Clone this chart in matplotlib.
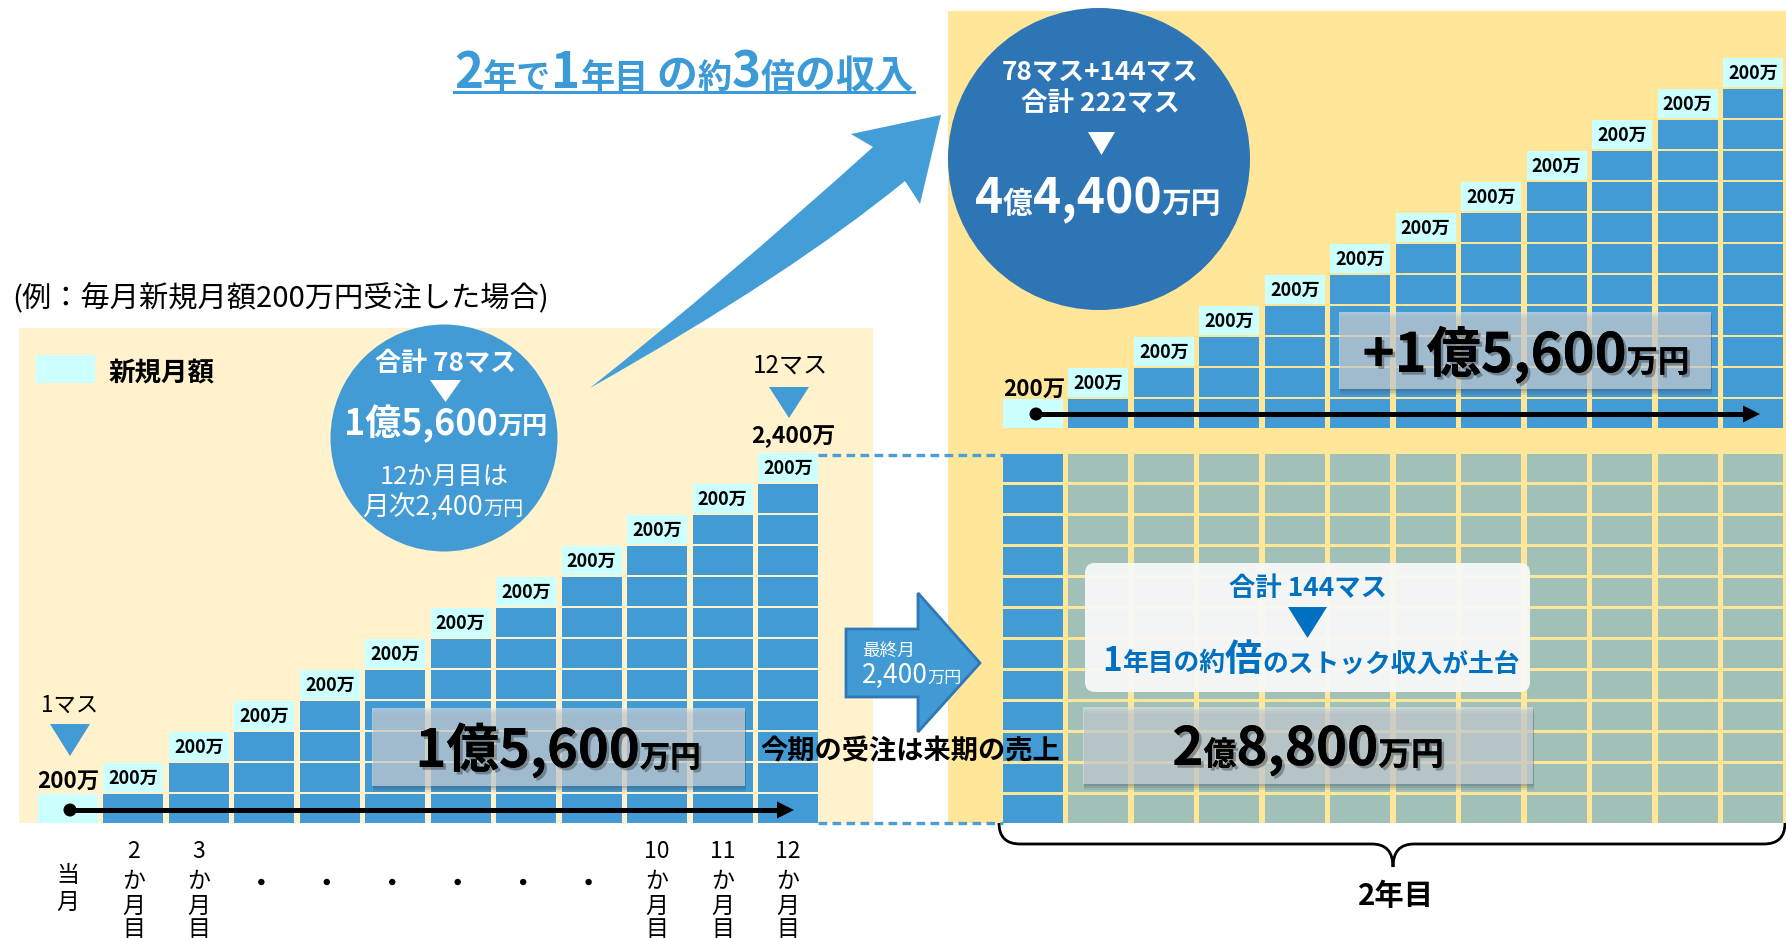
import matplotlib
matplotlib.use('Agg')
import matplotlib.pyplot as plt
from matplotlib.patches import Rectangle, Circle, Polygon, FancyBboxPatch, PathPatch
from matplotlib.path import Path
import matplotlib.patheffects as pe

plt.rcParams['font.family'] = ['Noto Sans CJK JP', 'DejaVu Sans']

# data
month_labels = ['当月', '2か月目', '3か月目', '・', '・', '・', '・', '・', '・',
                '10か月目', '11か月目', '12か月目']
masu_year1 = [1, 2, 3, 4, 5, 6, 7, 8, 9, 10, 11, 12]      # cells per month, year 1
masu_year2 = [1, 2, 3, 4, 5, 6, 7, 8, 9, 10, 11, 12]      # new cells per month, year 2
stock_rows = 12    # last month of year 1 carried over
stock_cols = 12
unit_label = '200万'

# colours
BLUE = '#439bd5'
CYAN = '#ccffff'
CREAM = '#fff2cc'
YELLOW = '#ffe699'
SAGE = '#a1c1b8'
DARK = '#2e75b6'
TBLUE = '#3c9ad6'
BOXBLUE = '#0070c0'

W, H = 1786, 938
fig = plt.figure(figsize=(W / 100, H / 100), dpi=100)
ax = fig.add_axes([0, 0, 1, 1])
ax.set_xlim(0, W)
ax.set_ylim(H, 0)
ax.axis('off')
rend = fig.canvas.get_renderer()

shadow = [pe.withSimplePatchShadow(offset=(2, -2), shadow_rgbFace='k', alpha=0.3), pe.Normal()]


def rich(x, base, parts, width, ha='center', color='black', weight='bold', z=20, effects=None):
    """place runs of text with different sizes on one baseline, fitted to a width"""
    objs = []
    for s, k in parts:
        t = ax.text(0, base, s, fontsize=20 * k, color=color, fontweight=weight,
                    va='baseline', ha='left', zorder=z)
        if effects:
            t.set_path_effects(effects)
        objs.append(t)
    tot = sum(t.get_window_extent(rend).width for t in objs)
    f = width / tot
    for t, (s, k) in zip(objs, parts):
        t.set_fontsize(20 * k * f)
    ws = [t.get_window_extent(rend).width for t in objs]
    x0 = x - sum(ws) / 2 if ha == 'center' else x
    start = x0
    for t, w in zip(objs, ws):
        t.set_x(x0)
        x0 += w
    return start, x0


# backgrounds
ax.add_patch(Rectangle((19, 328), 854, 495, fc=CREAM, ec='none', zorder=0))
ax.add_patch(Rectangle((948, 11), 838, 812, fc=YELLOW, ec='none', zorder=0))

cw, ch = 60, 28.5
px, py = 65.45, 31
lx0, lbot = 38, 823
rx0, rbot = 1003, 428
ltop = 454


def staircase(x0, bottom, counts):
    for i, n in enumerate(counts):
        x = x0 + i * px
        for j in range(n):
            top = bottom - j * py - ch
            last = j == n - 1
            ax.add_patch(Rectangle((x, top), cw, ch, fc=CYAN if last else BLUE, ec='none', zorder=2))
            if last and n > 1:
                ax.text(x + cw / 2, top + ch / 2 + 1, unit_label, fontsize=13, fontweight='bold',
                        ha='center', va='center', zorder=3)


staircase(lx0, lbot, masu_year1)
staircase(rx0, rbot, masu_year2)

# year-2 stock grid
for i in range(stock_cols):
    for j in range(stock_rows):
        ax.add_patch(Rectangle((rx0 + i * px, ltop + j * py), cw, ch,
                               fc=BLUE if i == 0 else SAGE, ec='none', zorder=2))

# dashed connectors
for yy in (455, 823):
    ax.plot([818, 1003], [yy, yy], color='#4a9fd8', lw=2.4, ls=(0, (2.6, 1.6)), zorder=3,
            solid_capstyle='butt', dash_capstyle='butt')


# timeline arrows
def timeline(x0, x1, y):
    ax.plot([x0, x1 - 14], [y, y], color='black', lw=3.6, zorder=5, solid_capstyle='butt')
    ax.add_patch(Circle((x0, y), 6.5, fc='black', zorder=5))
    ax.add_patch(Polygon([(x1 - 17, y - 8.5), (x1, y), (x1 - 17, y + 8.5)], fc='black', zorder=5))


timeline(70, 794, 810)
timeline(1036, 1760, 414)

# left legend
ax.add_patch(Rectangle((36, 355), 59, 28, fc=CYAN, ec='none', zorder=2))
rich(109, 380, [('新規月額', 1)], 106, ha='left')

# texts above first / last columns
rich(70, 712, [('1マス', 1)], 57, weight='normal')
ax.add_patch(Polygon([(50, 724), (90, 724), (70, 756)], fc=BLUE, ec='none', zorder=4))
rich(68, 788, [(unit_label, 1)], 62)
rich(790, 373, [('12マス', 1)], 75, weight='normal')
ax.add_patch(Polygon([(769, 387), (809, 387), (789, 418)], fc=BLUE, ec='none', zorder=4))
rich(793, 443, [('2,400万', 1)], 84)
rich(1034, 396, [(unit_label, 1)], 62)

# headings
rich(12, 307, [('(例：毎月新規月額200万円受注した場合)', 1)], 536, ha='left', weight='normal')
rich(684, 88, [('2', 1.45), ('年で', 1.0), ('1', 1.45), ('年目', 1.0), (' ', 1.0), ('の', 1.2),
               ('約', 1.0), ('3', 1.45), ('倍', 1.0), ('の', 1.2), ('収入', 1.15)], 460, color=TBLUE)
ax.plot([454, 914], [92.5, 92.5], color=TBLUE, lw=2.2, zorder=20)

# curved arrow
verts = [(590, 388), (720, 285), (873, 147), (851, 134), (941, 115), (920, 204), (905, 181),
         (790, 275), (590, 388), (590, 388)]
codes = [Path.MOVETO, Path.CURVE3, Path.CURVE3, Path.LINETO, Path.LINETO, Path.LINETO, Path.LINETO,
         Path.CURVE3, Path.CURVE3, Path.CLOSEPOLY]
ax.add_patch(PathPatch(Path(verts, codes), fc='#439dd6', ec='none', zorder=6))

# left circle
ax.add_patch(Circle((444, 438), 113.5, fc=BLUE, ec='none', zorder=7))
rich(446, 371, [('合計 78マス', 1)], 141, color='white')
ax.add_patch(Polygon([(430, 380), (461, 380), (445.5, 402)], fc='white', ec='none', zorder=8))
rich(446, 435, [('1億5,600', 1), ('万円', 0.7)], 204, color='white')
rich(444, 484, [('12か月目は', 1)], 129, color='white', weight='normal')
rich(443, 515, [('月次2,400', 1), ('万円', 0.75)], 161, color='white', weight='normal')

# right circle
ax.add_patch(Circle((1099, 159), 151, fc=DARK, ec='none', zorder=7))
rich(1100, 80, [('78マス+144マス', 1)], 197, color='white')
rich(1100, 111, [('合計 222マス', 1)], 159, color='white')
ax.add_patch(Polygon([(1088, 132), (1115, 132), (1101.5, 155)], fc='white', ec='none', zorder=8))
rich(1098, 213, [('4', 1), ('億', 0.62), ('4,400', 1), ('万円', 0.62)], 246, color='white')


# translucent total boxes
def total_box(x, y, w, h):
    for k, a in ((6, 0.10), (4, 0.14), (2, 0.18)):
        ax.add_patch(Rectangle((x + 1, y + k), w, h, fc='#3a4a5a', ec='none', alpha=a, zorder=8))
    ax.add_patch(Rectangle((x, y), w, h, fc=(0.87, 0.89, 0.90), ec='none', alpha=0.62, zorder=9))


total_box(372, 708, 373, 78)
rich(558, 767, [('1億5,600', 1), ('万円', 0.58)], 285, effects=shadow)
total_box(1339, 312, 372, 77)
rich(1526, 372, [('+1億5,600', 1), ('万円', 0.58)], 327, effects=shadow)
total_box(1083, 707, 450, 77)
rich(1308, 765, [('2', 1), ('億', 0.62), ('8,800', 1), ('万円', 0.62)], 271, effects=shadow)

# white note box
ax.add_patch(FancyBboxPatch((1085, 563), 445, 129, boxstyle='round,pad=0,rounding_size=10',
                            fc='#f8f9f8', ec='none', alpha=0.95, zorder=9))
rich(1308, 596, [('合計 144マス', 1)], 158, color=BOXBLUE)
ax.add_patch(Polygon([(1288, 607), (1327, 607), (1307.5, 638)], fc=BOXBLUE, ec='none', zorder=10))
rich(1311, 671, [('1', 1.3), ('年目の約', 1), ('倍', 1.45), ('のストック収入が土台', 1)], 418, color=BOXBLUE)

# middle block arrow
ax.add_patch(Polygon([(846, 629), (918, 629), (918, 593), (980, 663), (918, 732), (918, 697), (846, 697)],
                     fc='#419ad4', ec='#2f78b8', lw=2, zorder=10))
rich(862, 656, [('最終月', 1)], 53, ha='left', color='white', weight='normal')
rich(862, 683, [('2,400', 1), ('万円', 0.65)], 100, ha='left', color='white', weight='normal')
rich(910, 759, [('今期の受注は来期の売上', 1)], 299)

# brace for year 2
bv = [(999, 823), (999, 844), (1020, 844), (1372, 844), (1393, 844), (1393, 867),
      (1393, 844), (1414, 844), (1764, 844), (1785, 844), (1785, 823)]
bc = [Path.MOVETO, Path.CURVE3, Path.CURVE3, Path.LINETO, Path.CURVE3, Path.CURVE3,
      Path.CURVE3, Path.CURVE3, Path.LINETO, Path.CURVE3, Path.CURVE3]
ax.add_patch(PathPatch(Path(bv, bc), fc='none', ec='black', lw=2, zorder=5))
rich(1396, 905, [('2年目', 1)], 76)

# month labels, written vertically
for i, lab in enumerate(month_labels):
    xc = lx0 + i * px + cw / 2
    if lab == '・':
        ax.add_patch(Circle((xc - 3, 882), 3.2, fc='black', ec='none', zorder=5))
        continue
    num = ''.join(c for c in lab if c.isdigit())
    rest = lab[len(num):]
    if num:
        ax.text(xc, 851, num, fontsize=16.5, ha='center', va='center')
        ys = [882, 906, 930]
    else:
        ys = [876, 902]
    for c, yy in zip(rest, ys):
        ax.text(xc, yy, c, fontsize=16.5, ha='center', va='center')

fig.savefig('out.png', dpi=100)
